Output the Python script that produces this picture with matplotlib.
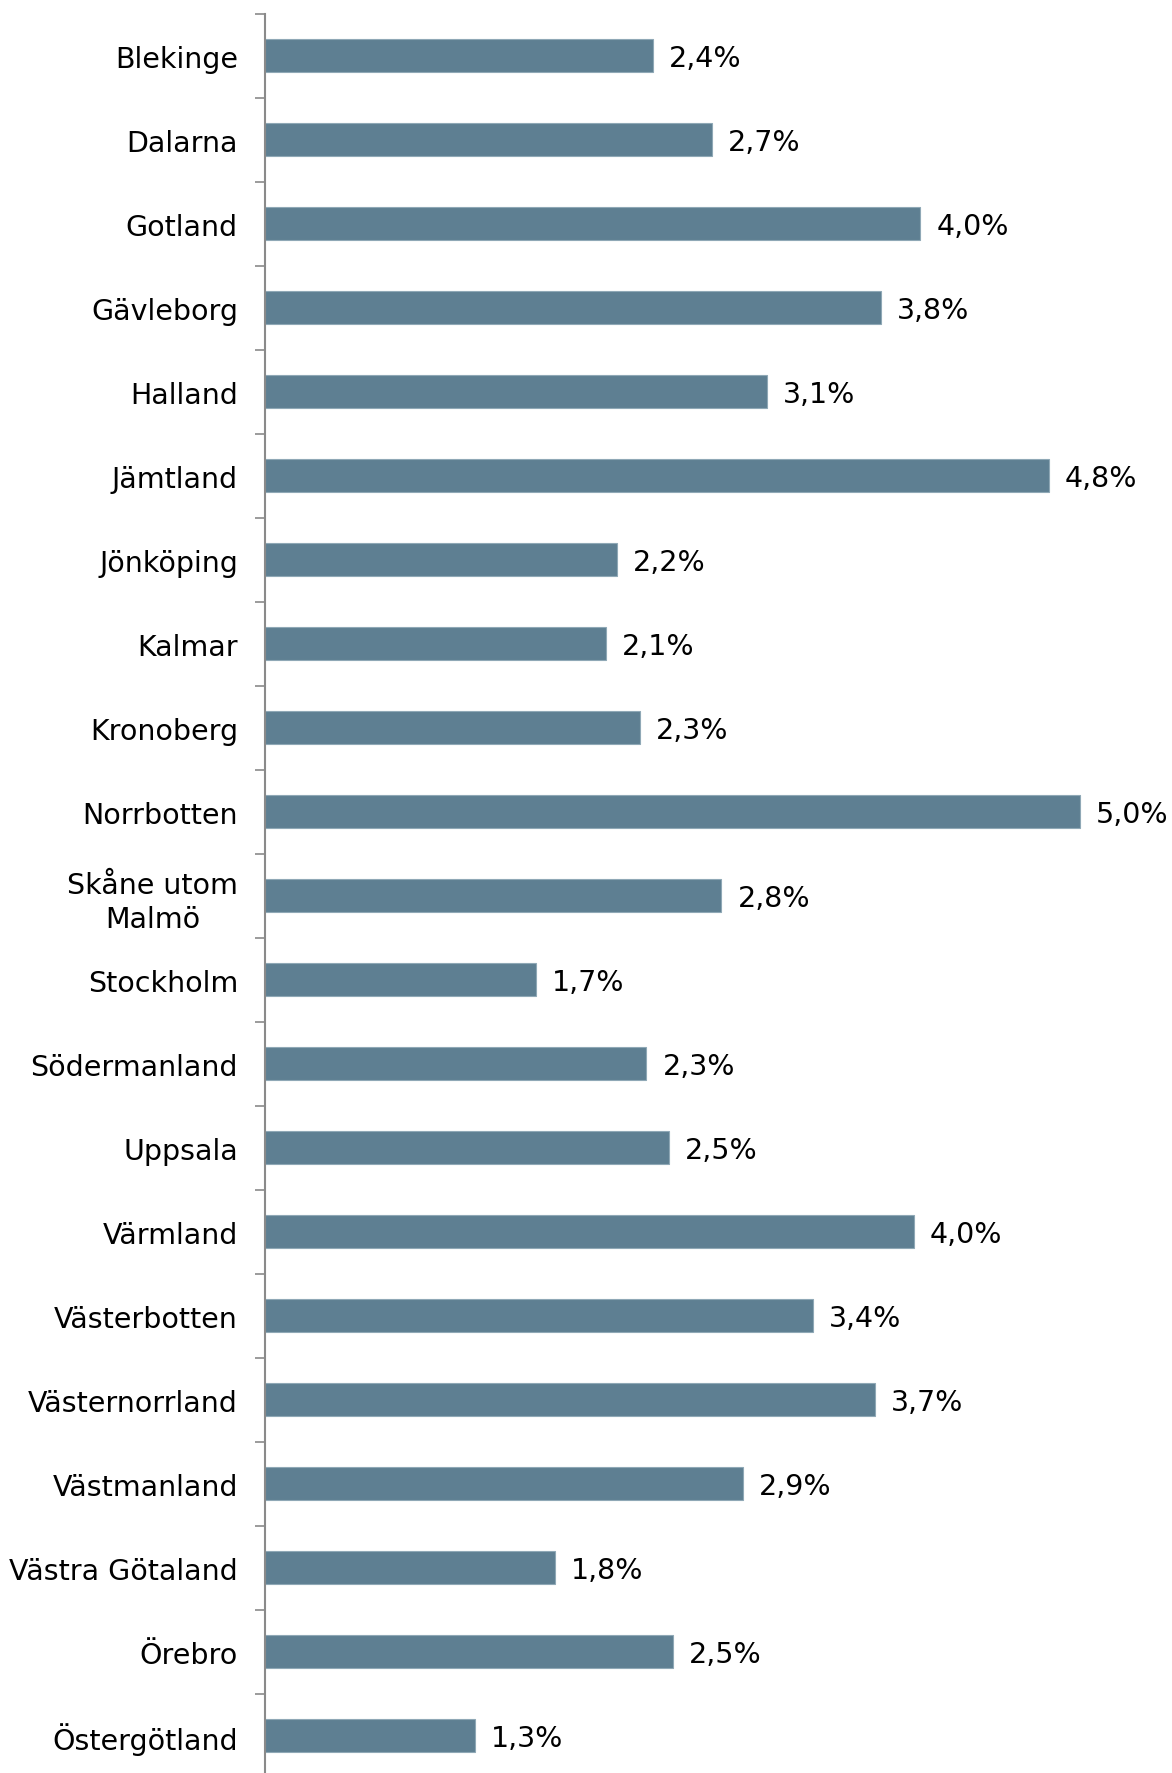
import matplotlib
matplotlib.use("Agg")
import matplotlib.pyplot as plt
import numpy as np

regions = ["Blekinge", "Dalarna", "Gotland", "Gävleborg", "Halland", "Jämtland",
           "Jönköping", "Kalmar", "Kronoberg", "Norrbotten", "Skåne utom\nMalmö",
           "Stockholm", "Södermanland", "Uppsala", "Värmland", "Västerbotten",
           "Västernorrland", "Västmanland", "Västra Götaland", "Örebro", "Östergötland"]
# share in percent
values = [2.38, 2.74, 4.02, 3.78, 3.08, 4.81, 2.16, 2.09, 2.30, 5.0, 2.80,
          1.66, 2.34, 2.48, 3.98, 3.36, 3.74, 2.93, 1.78, 2.50, 1.29]

W, H = 1172, 1774
fig = plt.figure(figsize=(W / 100, H / 100), dpi=100)
left = 265 / W
top = 1 - 14.7 / H
bottom = -4.7 / H
xmax = 5.5
right = (265 + xmax * 163) / W
ax = fig.add_axes([left, bottom, right - left, top - bottom])

y = np.arange(len(regions))
ax.barh(y, values, height=0.39, color="#5E7F92", edgecolor="#8FA8B6", linewidth=0.8)
for yi, v in zip(y, values):
    ax.text(v + 16 / 163, yi + 0.03, f"{v:.1f}%".replace(".", ","), va="center", ha="left",
            fontsize=20.5, color="black")

ax.set_xlim(0, xmax)
ax.set_ylim(len(regions) - 0.5, -0.5)
ax.set_yticks(y)
ax.set_yticklabels(regions, fontsize=20.5, multialignment="center", linespacing=1.3)
ax.tick_params(axis="y", which="major", length=0, pad=19.5)
ax.set_yticks(np.arange(-0.5, len(regions), 1), minor=True)
ax.tick_params(axis="y", which="minor", length=7, width=1.2, color="#8a8a8a")
ax.set_xticks([])
for s in ["top", "right", "bottom"]:
    ax.spines[s].set_visible(False)
ax.spines["left"].set_color("#8a8a8a")
ax.spines["left"].set_linewidth(1.5)

fig.savefig("out.png", dpi=100)
